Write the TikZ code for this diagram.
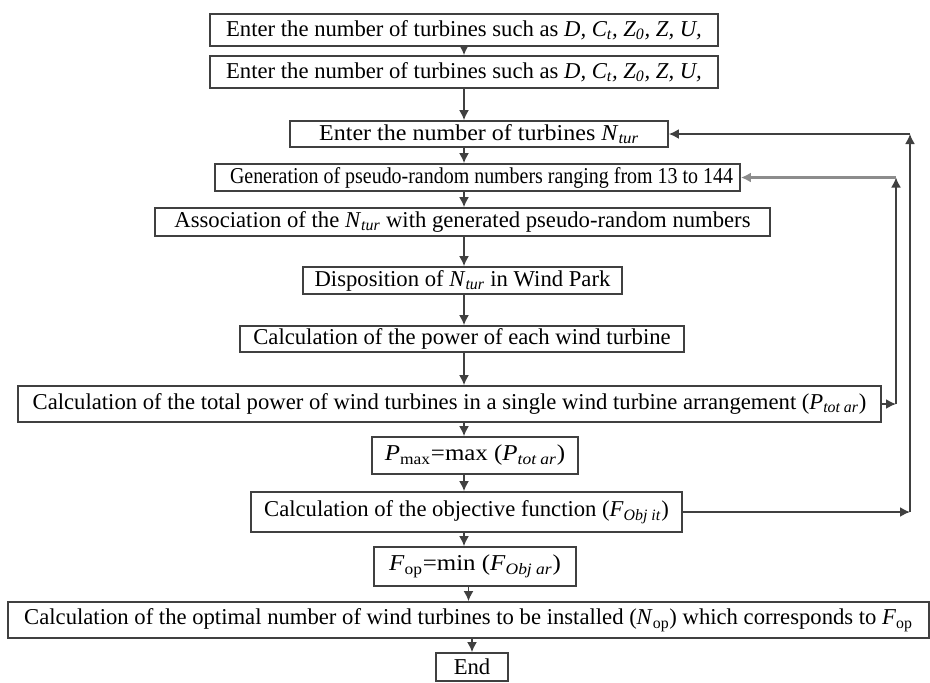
\documentclass[tikz,border=0pt]{standalone}
\usepackage{fontspec}
\setmainfont{Liberation Serif}
\usepackage{tikz}
\usetikzlibrary{arrows.meta}

\newcommand{\pxu}{0.75pt}
\newcommand{\Ntur}{\textit{N}\textsubscript{\textit{tur}}}

\tikzset{
  blk/.style={draw=black!75, line width=1.3pt, inner sep=0pt, font=\fontsize{17}{20}\selectfont},
  arr/.style={->, >={Latex[length=7.5pt,width=7.5pt]}, line width=1.3pt, draw=black!75},
}

\begin{document}
\begin{tikzpicture}[x=0.75pt,y=-0.75pt]
\useasboundingbox (0,0) rectangle (930,682);
\coordinate (spine) at (464,0);
% main column
\node[blk,minimum width=508*\pxu,minimum height=32*\pxu] (b1)at(464,30){Enter the number of turbines such as \textit{D, C\textsubscript{t}, Z\textsubscript{0}, Z, U,}};
\node[blk,minimum width=508*\pxu,minimum height=32*\pxu] (b2)at(464,72){Enter the number of turbines such as \textit{D, C\textsubscript{t}, Z\textsubscript{0}, Z, U,}};
\node[blk,minimum width=378*\pxu,minimum height=26*\pxu] (b3)at(479,134){\scalebox{1.06}[1]{Enter the number of turbines \Ntur}\hspace{14pt}};
\node[blk,minimum width=525*\pxu,minimum height=27*\pxu] (b4)at(477.5,177.5){\hspace{6pt}\scalebox{0.88}[1]{Generation of pseudo-random numbers ranging from 13 to 144}};
\node[blk,minimum width=615*\pxu,minimum height=28*\pxu] (b5)at(462.5,222){Association of the \Ntur{} with generated pseudo-random numbers};
\node[blk,minimum width=319*\pxu,minimum height=27*\pxu] (b6)at(462.5,280.5){Disposition of \Ntur{} in Wind Park};
\node[blk,minimum width=444*\pxu,minimum height=26*\pxu] (b7)at(462,339){Calculation of the power of each wind turbine};
\node[blk,minimum width=863*\pxu,minimum height=36*\pxu] (b8)at(449.5,404){Calculation of the total power of wind turbines in a single wind turbine arrangement (\textit{P}\textsubscript{\textit{tot ar}})};
\node[blk,minimum width=206*\pxu,minimum height=37*\pxu] (b9)at(475,455.5){\scalebox{1.1}[1]{\textit{P}\textsubscript{max}=max (\textit{P}\textsubscript{\textit{tot ar}})}};
\node[blk,minimum width=431*\pxu,minimum height=40*\pxu] (b10)at(466.5,512){Calculation of the objective function (\textit{F}\textsubscript{\textit{Obj it}})};
\node[blk,minimum width=202*\pxu,minimum height=39*\pxu] (b11)at(475,566.5){\scalebox{1.1}[1]{\textit{F}\textsubscript{op}=min (\textit{F}\textsubscript{\textit{Obj ar}})}};
\node[blk,minimum width=921*\pxu,minimum height=36*\pxu] (b12)at(468.5,620){Calculation of the optimal number of wind turbines to be installed (\textit{N}\textsubscript{op}) which corresponds to \textit{F}\textsubscript{op}};
\node[blk,minimum width=72*\pxu,minimum height=28*\pxu] (end)at(472,667){End};
% down arrows
\draw[arr] (b1.south -| spine) -- (b2.north -| spine);
\draw[arr] (b2.south -| spine) -- (b3.north -| spine);
\draw[arr] (b3.south -| spine) -- (b4.north -| spine);
\draw[arr] (b4.south -| spine) -- (b5.north -| spine);
\draw[arr] (b5.south -| spine) -- (b6.north -| spine);
\draw[arr] (b6.south -| spine) -- (b7.north -| spine);
\draw[arr] (b7.south -| spine) -- (b8.north -| spine);
\draw[arr] (b8.south -| spine) -- (b9.north -| spine);
\draw[arr] (b9.south -| spine) -- (b10.north -| spine);
\draw[arr] (b10.south -| spine) -- (b11.north -| spine);
\draw[arr] (b11.south -| b12.south) -- (b12.north);
\draw[arr] (b12.south -| end.north) -- (end.north);
% feedback loops
\coordinate (o1) at (910,512);
\coordinate (o2) at (910,134);
\coordinate (i1) at (896,404);
\coordinate (i2) at (896,177.5);
\draw[arr] (b10.east) -- (o1);
\draw[arr] (o1) -- (o2);
\draw[arr] (o2) -- (b3.east);
\draw[arr] (b8.east) -- (i1);
\draw[arr] (i1) -- (i2);
\draw[arr,draw=black!45,line width=1.6pt] (i2) -- (b4.east);
\end{tikzpicture}
\end{document}
